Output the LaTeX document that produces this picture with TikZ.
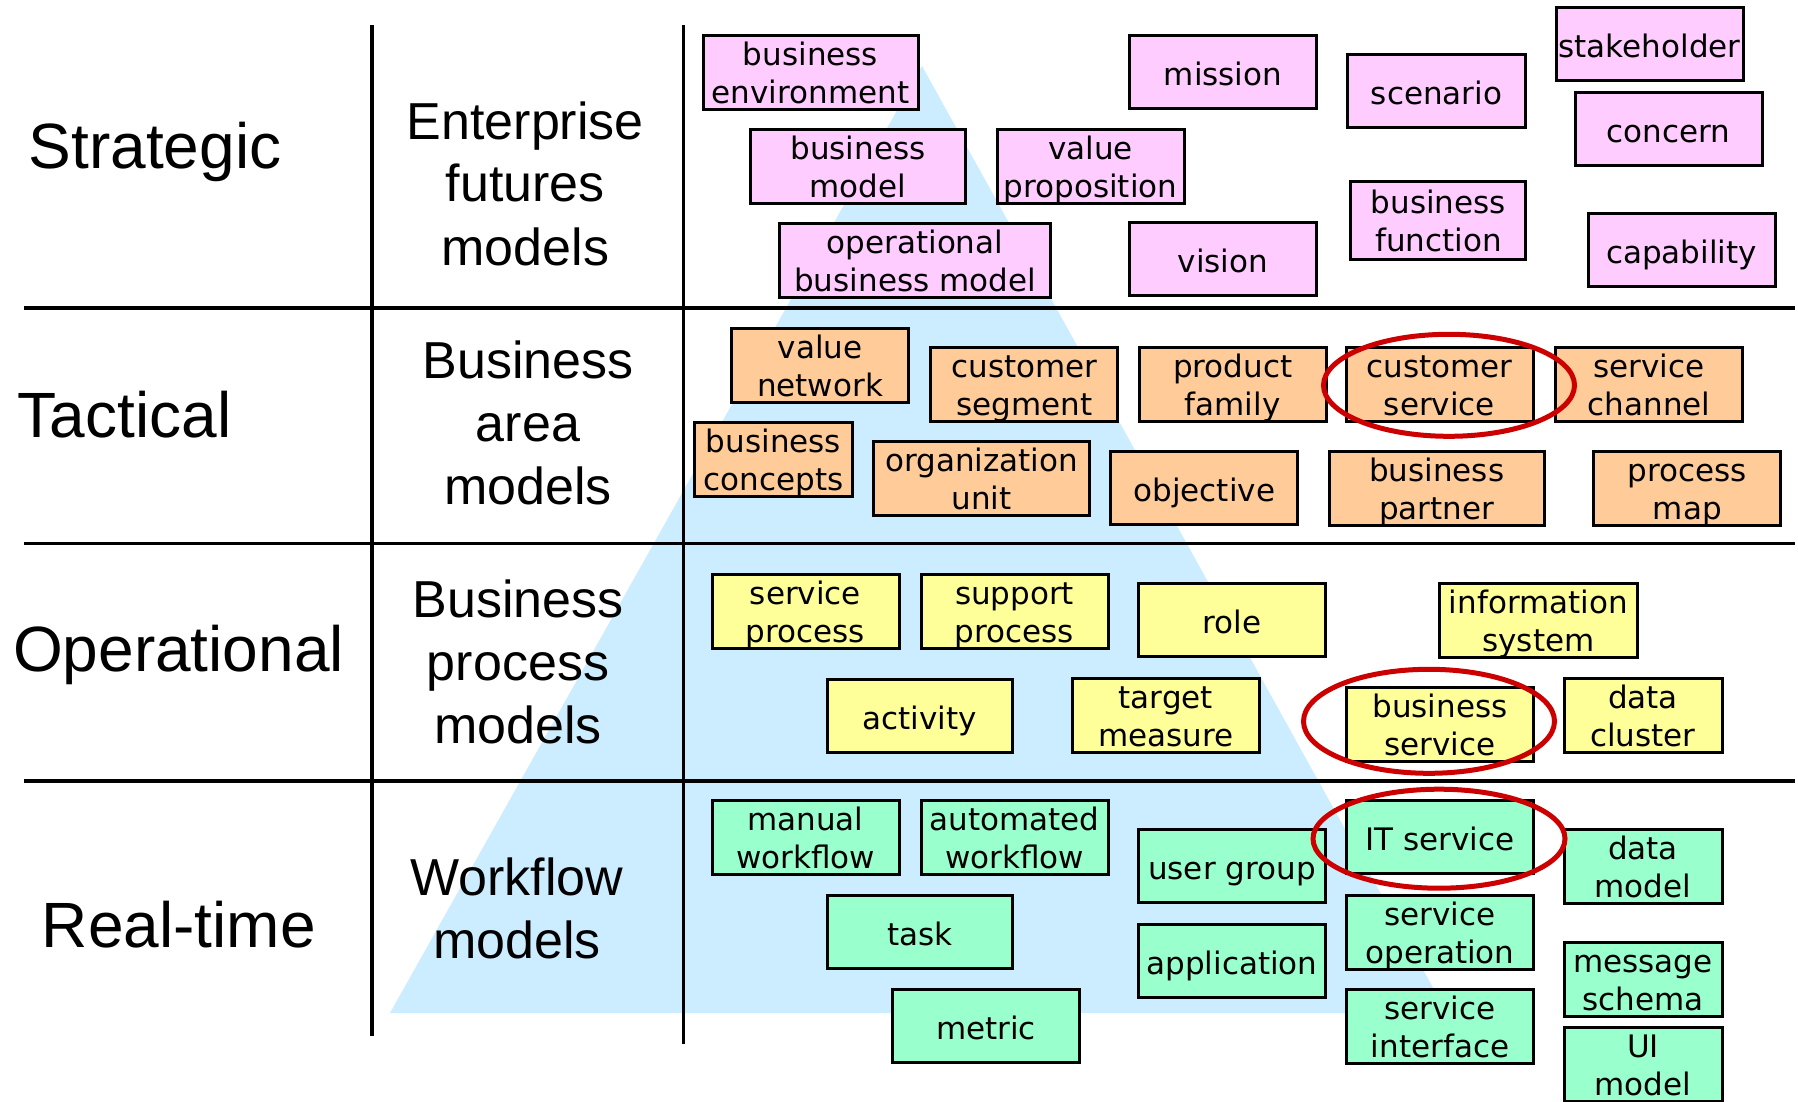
\documentclass[tikz,border=0pt]{standalone}
\usepackage{fontspec}
\setmainfont{Liberation Sans}
\newfontfamily\boxface{DejaVu Sans}
\usetikzlibrary{calc}

\definecolor{stratpink}{HTML}{FFCCFF}
\definecolor{tactorange}{HTML}{FFCC99}
\definecolor{operyellow}{HTML}{FFFF99}
\definecolor{rtgreen}{HTML}{99FFCC}
\definecolor{pyramidblue}{HTML}{CCECFF}
\definecolor{ringred}{HTML}{CC0000}

\begin{document}
\begin{tikzpicture}[x=1pt, y=-1pt,
    box/.style={draw, line width=3pt, align=center, inner sep=0pt,
        minimum width=187pt, minimum height=73pt,
        text height=68pt, text depth=6pt,
        font=\boxface\fontsize{31}{38}\selectfont},
    single/.style={text height=33pt},
    strat/.style={box, fill=stratpink},
    tact/.style={box, fill=tactorange},
    oper/.style={box, fill=operyellow},
    rtime/.style={box, fill=rtgreen},
    level/.style={anchor=base, font=\fontsize{64}{70}\selectfont},
    tier/.style={align=center, anchor=base, inner sep=0pt, font=\fontsize{52}{63}\selectfont},
    rule/.style={line width=3.4pt},
    ring/.style={draw=ringred, line width=5pt}]

    \path[use as bounding box, fill=white] (0,0) rectangle (1798,1102);

    % the pyramid behind everything
    \fill[pyramidblue] (922,66) -- (1447,1013) -- (390,1013) -- cycle;

    % grid
    \foreach \yy in {308,543.5,781}
        \draw[rule] (24,\yy) -- (1795,\yy);
    \draw[rule] (372,25) -- (372,1036);
    \draw[rule] (683.3,25) -- (683.3,1044);

    % levels
    \node[level] (strategic) at (155,169) {Strategic};
    \node[level] (tactical) at (124.5,437) {Tactical};
    \node[level] (operational) at (178.5,671.5) {Operational};
    \node[level] (realtime) at (178.8,947) {Real-time};

    % model kinds (anchored on the last line)
    \node[tier] (entmod) at (525.3,265) {Enterprise\\futures\\models};
    \node[tier] (areamod) at (528,504.5) {Business\\area\\models};
    \node[tier] (procmod) at (518,743) {Business\\process\\models};
    \node[tier] (wfmod) at (517,958) {Workflow\\models};

    % strategic
    \node[strat, minimum width=215pt] (benv) at (810.5,72.2) {business\\environment};
    \node[strat, single] (mission) at (1223,72) {mission};
    \node[strat, single, minimum width=178pt] (scenario) at (1436.5,90.8) {scenario};
    \node[strat, single] (stakeholder) at (1649.5,43.7) {stakeholder};
    \node[strat, minimum width=215pt] (bmodel) at (858,166.7) {business\\model};
    \node[strat] (valprop) at (1090.5,166.7) {value\\proposition};
    \node[strat, single] (concern) at (1668.5,128.6) {concern};
    \node[strat, minimum width=175pt, minimum height=78.5pt] (bfunc) at (1438.4,220.5) {business\\function};
    \node[strat, minimum width=271pt] (opbm) at (915,260.5) {operational\\business model};
    \node[strat, single] (vision) at (1223,258.8) {vision};
    \node[strat, single] (capab) at (1681.5,250) {capability};

    % tactical
    \node[tact, minimum width=177.5pt] (vnet) at (820,365) {value\\network};
    \node[tact] (cseg) at (1024.3,384) {customer\\segment};
    \node[tact] (pfam) at (1232.6,384) {product\\family};
    \node[tact] (csrv) at (1439.5,384) {customer\\service};
    \node[tact] (schan) at (1649,384) {service\\channel};
    \node[tact, minimum width=158pt] (bconc) at (773.5,459) {business\\concepts};
    \node[tact, minimum width=216pt] (orgu) at (981.5,478) {organization\\unit};
    \node[tact, single] (objv) at (1204.3,488) {objective};
    \node[tact, minimum width=215pt] (bpart) at (1436.7,488) {business\\partner};
    \node[tact] (pmap) at (1687.4,488) {process\\map};

    % operational
    \node[oper] (sproc) at (805.5,611) {service\\process};
    \node[oper] (suproc) at (1014.5,611) {support\\process};
    \node[oper, single] (role) at (1231.9,620) {role};
    \node[oper, minimum width=198pt] (infosys) at (1538.4,620) {information\\system};
    \node[oper, single, minimum width=185pt] (activity) at (919.7,715.6) {activity};
    \node[oper] (tmeas) at (1165.8,715.6) {target\\measure};
    \node[oper] (bsrv) at (1440,724) {business\\service};
    \node[oper, minimum width=158pt] (dclus) at (1643,715.6) {data\\cluster};

    % real-time
    \node[rtime] (mwf) at (805.5,837) {manual\\workflow};
    \node[rtime] (awf) at (1014.5,837) {automated\\workflow};
    \node[rtime, single] (ugrp) at (1231.9,866) {user group};
    \node[rtime, single] (itsrv) at (1440,836.5) {IT service};
    \node[rtime, minimum width=158pt] (dmodel) at (1643,866) {data\\model};
    \node[rtime, single, minimum width=185pt] (task) at (919.7,932) {task};
    \node[rtime, single] (app) at (1231.9,960.6) {application};
    \node[rtime] (sop) at (1440,932) {service\\operation};
    \node[rtime, minimum width=158pt] (msch) at (1643,979.7) {message\\schema};
    \node[rtime, single] (metric) at (986,1026.3) {metric};
    \node[rtime] (sint) at (1440,1026.3) {service\\interface};
    \node[rtime, minimum width=158pt] (uimodel) at (1643,1064.5) {UI\\model};

    % the three services
    \draw[ring] ($(csrv.center)+(9.5,1.3)$) ellipse [x radius=125.5pt, y radius=51pt];
    \draw[ring] ($(bsrv.center)+(-11,-2.7)$) ellipse [x radius=125.5pt, y radius=52pt];
    \draw[ring] ($(itsrv.center)+(-1,2.2)$) ellipse [x radius=126pt, y radius=49.5pt];

\end{tikzpicture}
\end{document}
